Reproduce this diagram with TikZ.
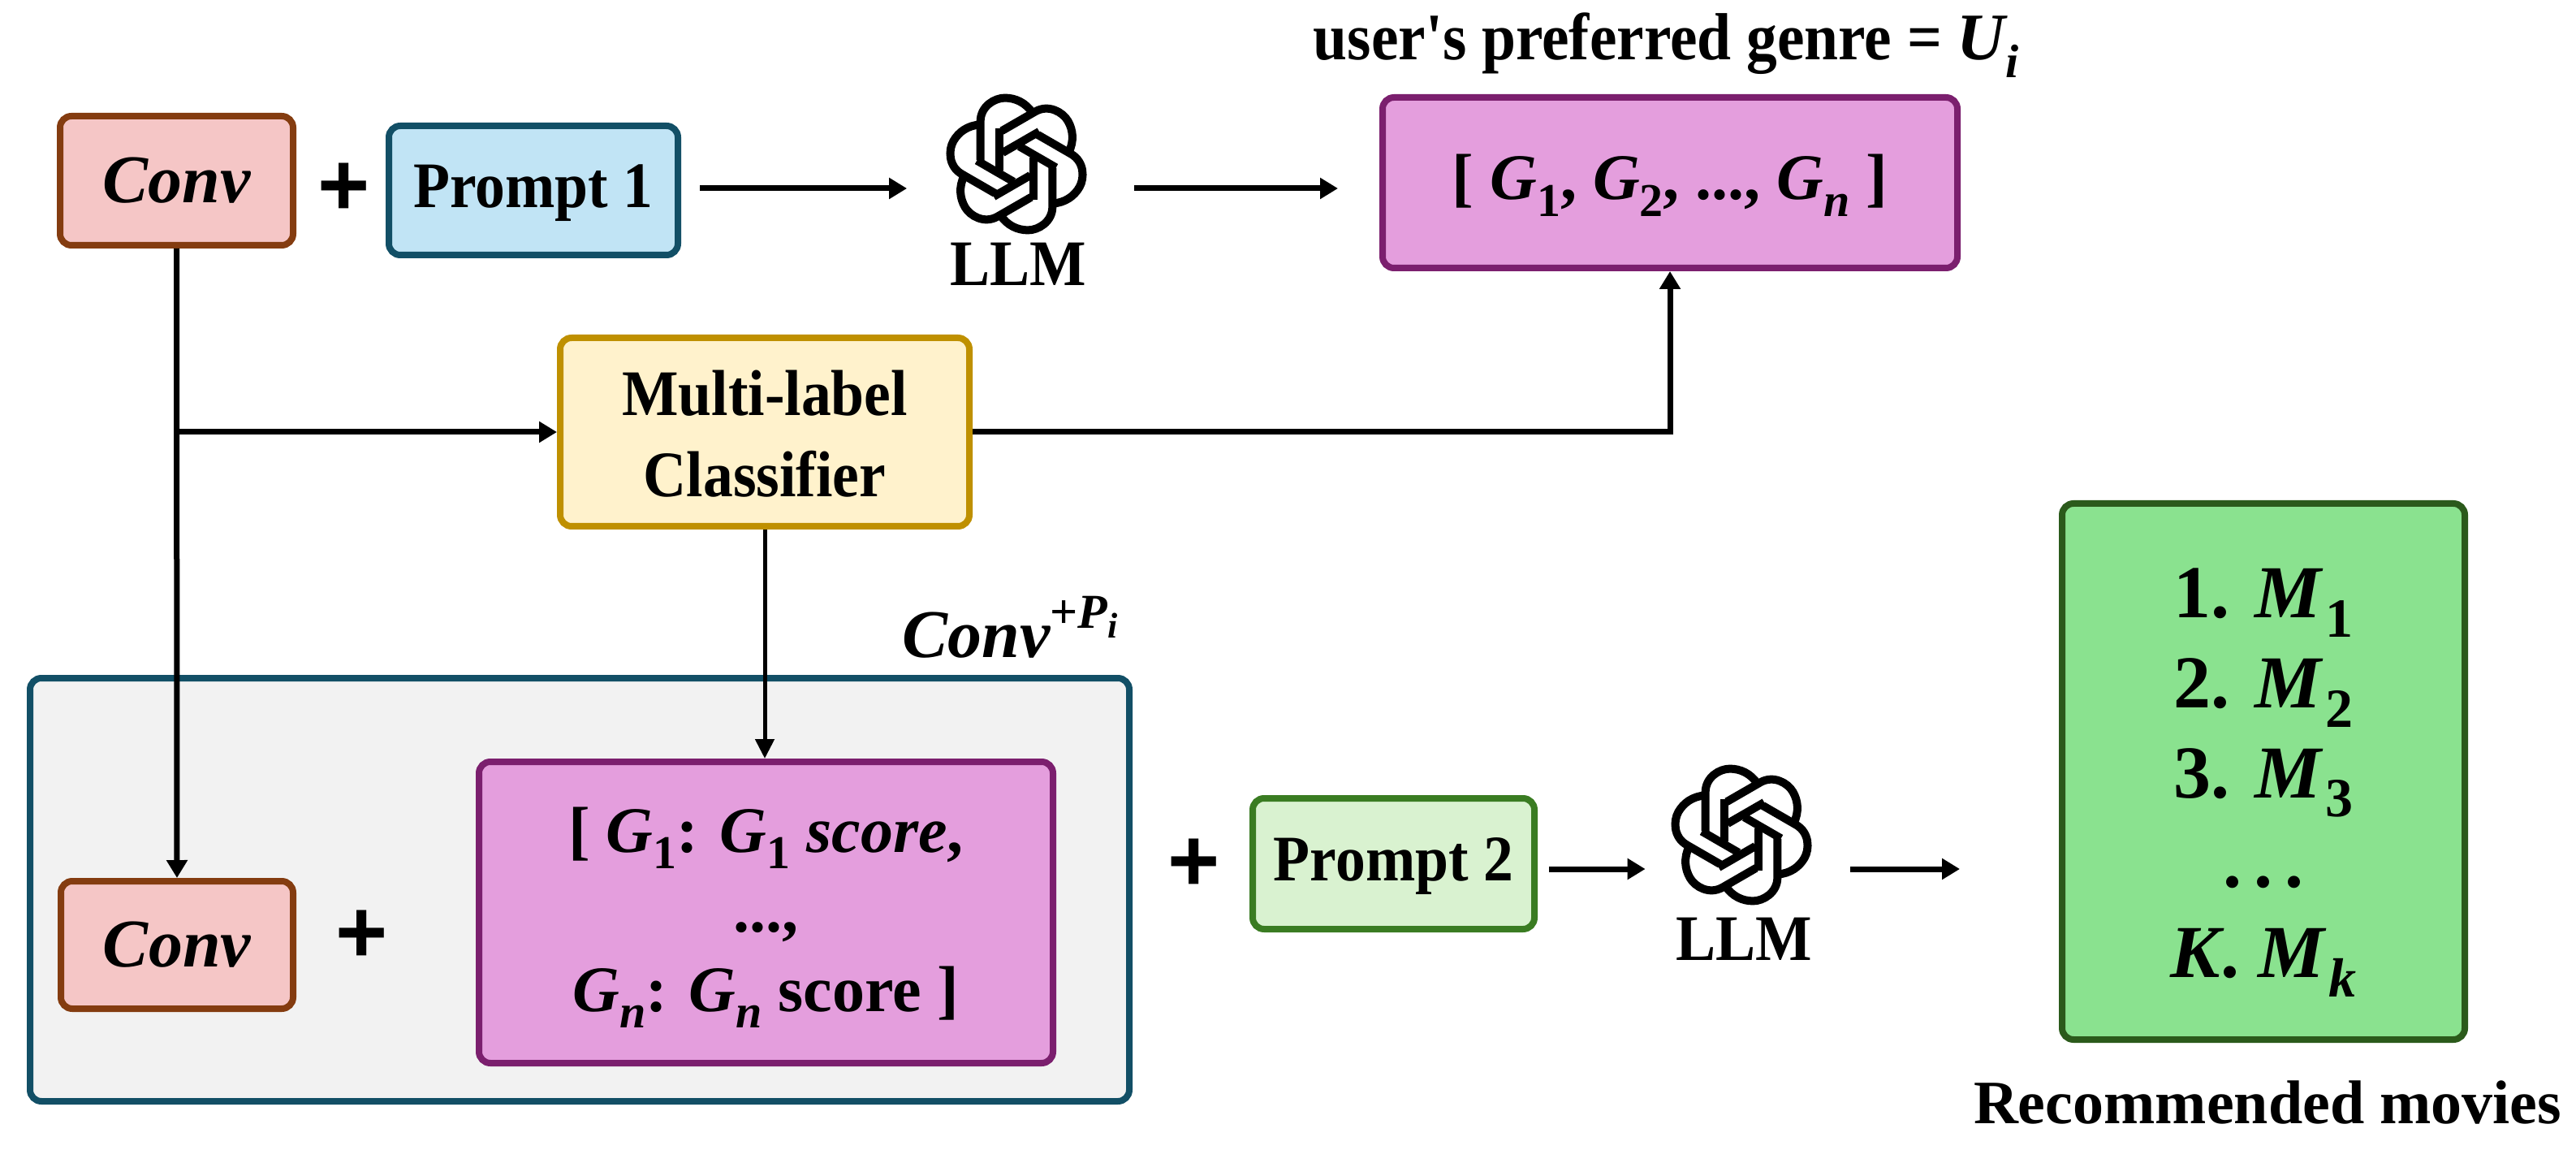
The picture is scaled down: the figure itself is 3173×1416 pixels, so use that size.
\documentclass[tikz,border=0pt]{standalone}
\usepackage{fontspec}
\usetikzlibrary{arrows.meta}
\setmainfont{Liberation Serif}
\newfontfamily\narrowserif[FakeStretch=0.92]{Liberation Serif}
\newfontfamily\plusfont{Liberation Sans}
\newcommand\lbl{\narrowserif\bfseries\fontsize{40}{40}\selectfont}
\newcommand\wide{\normalfont\bfseries\fontsize{38}{38}\selectfont}
\newcommand\mi{\normalfont\bfseries\itshape}
\newcommand\up{\normalfont\bfseries}
\newcommand\sbs[1]{\raisebox{-.26em}{\fontsize{29}{29}\selectfont #1}}
\newcommand\sbr[1]{\kern.06em\raisebox{-.26em}{\fontsize{34}{34}\selectfont #1}}
\definecolor{convF}{HTML}{F5C6C6}\definecolor{convD}{HTML}{843C10}
\definecolor{blueF}{HTML}{C1E4F5}\definecolor{blueD}{HTML}{124F66}
\definecolor{purF}{HTML}{E49EDD}\definecolor{purD}{HTML}{7B1F6E}
\definecolor{yelF}{HTML}{FFF2CC}\definecolor{yelD}{HTML}{BF9000}
\definecolor{grnF}{HTML}{D9F2D0}\definecolor{grnD}{HTML}{3A7C22}
\definecolor{recF}{HTML}{8AE28F}\definecolor{recD}{HTML}{2B5A1B}
\definecolor{bigF}{HTML}{F2F2F2}
\tikzset{
  boxed/.style={rectangle,rounded corners=7pt,line width=4pt,align=center,inner sep=0pt,font=\lbl},
  arr/.style={line width=3.5pt,-{Triangle[length=11pt,width=12.5pt]}},
  thinarr/.style={line width=2.5pt,-{Triangle[length=12pt,width=11.5pt]}},
  plus/.style={inner sep=0pt,font=\plusfont\bfseries\fontsize{55}{55}\selectfont},
  capt/.style={anchor=base,inner sep=0pt},
  knot/.style={line width=5pt,line join=miter},
  llmicon/.pic={
    \foreach \a in {0,60,...,300}{
      \begin{scope}[rotate=\a,scale=.95]
        \draw[knot] (-46.7,-5) -- (-46.7,-55) .. controls (-46.7,-75) and (-28.3,-85.7) .. (-15,-85.7)
          .. controls (-1.7,-85.7) and (11.7,-80) .. (21,-66);
        \draw[knot] (-21.7,-46.7) -- (-21.7,8.3);
      \end{scope}
    }
  }
}
\begin{document}
\begin{tikzpicture}[x=0.5pt,y=-0.5pt]
\useasboundingbox (0,0) rectangle (3173,1416);
% containers and boxes
\node[boxed,draw=blueD,fill=bigF,minimum width=677pt,minimum height=260.5pt] (big) at (714,1095.5) {};
\node[boxed,draw=convD,fill=convF,minimum width=143.5pt,minimum height=79.5pt,font=\fontsize{42}{42}\selectfont] (conv1) at (217.5,222.5) {\mi Conv};
\node[boxed,draw=blueD,fill=blueF,minimum width=178pt,minimum height=79.5pt] (p1) at (657,234.5) {\rule{0pt}{30pt}Prompt 1};
\node[boxed,draw=purD,fill=purF,minimum width=354pt,minimum height=105pt] (g) at (2057,225)
  {\rule{0pt}{31pt}\up[ \mi G\sbs{\up 1}\up, \mi G\sbs{\up 2}\up, ..., \mi G\sbs{n}\up\ ]};
\node[boxed,draw=yelD,fill=yelF,minimum width=252pt,minimum height=116pt] (clf) at (942,532) {\rule{0pt}{30pt}Multi-label\\[10pt]Classifier};
\node[boxed,draw=convD,fill=convF,minimum width=143pt,minimum height=78.5pt,font=\fontsize{42}{42}\selectfont] (conv2) at (218,1163.5) {\mi Conv};
\node[boxed,draw=purD,fill=purF,minimum width=353.5pt,minimum height=185.5pt] (g2) at (943.5,1123.5)
  {\rule{0pt}{34pt}\up[ \mi G\sbs{\up 1}\up: \mi G\sbs{\up 1} score\up,\\[9pt]\up ...,\\[9pt]\mi G\sbs{n}\up: \mi G\sbs{n} \up score ]};
\node[boxed,draw=grnD,fill=grnF,minimum width=173.5pt,minimum height=80.5pt] (p2) at (1716.5,1063.5) {\rule{0pt}{30pt}Prompt 2};
\node[boxed,draw=recD,fill=recF,minimum width=248pt,minimum height=330pt,font=\normalfont\fontsize{46}{46}\selectfont] (rec) at (2788,950)
  {\rule{0pt}{44pt}\up 1. \mi M\sbr{\up 1}\\[9.3pt]\up 2. \mi M\sbr{\up 2}\\[9.3pt]\up 3. \mi M\sbr{\up 3}\\[9.3pt]\up .\kern.16em.\kern.16em.\\[9.3pt]\mi K\up. \mi M\sbr{k}};
% plus signs
\node[plus] (plusA) at (424,233) {+};
\node[plus] (plusB) at (446,1153) {+};
\node[plus] (plusC) at (1471,1065) {+};
% LLM icons with their captions
\node[inner sep=0pt,minimum width=84.5pt,minimum height=120pt] (llmA) at (1252,232) {};
\node[inner sep=0pt,minimum width=86pt,minimum height=130pt] (llmB) at (2146,1070) {};
\pic at (1252,202) {llmicon};
\pic at (2145,1028) {llmicon};
\node[capt,font=\lbl] (capA) at (1254,352) {LLM};
\node[capt,font=\lbl] (capB) at (2148,1182) {LLM};
% captions
\node[capt,font=\narrowserif\bfseries\fontsize{41}{41}\selectfont] (title) at (2052,74) {user's preferred genre = \mi U\sbs{i}};
\node[capt,font=\fontsize{42}{42}\selectfont] (convp) at (1244,809) {\mi Conv\raisebox{.42em}{\fontsize{30}{30}\selectfont\up +\mi P\raisebox{-.2em}{\fontsize{22}{22}\selectfont i}}};
\node[capt,font=\wide] (recc) at (2793,1383) {Recommended movies};
% connectors
\draw[arr] (conv1.south) -- (conv2.north);
\draw[arr] (conv1.south |- clf.west) -- (clf.west);
\draw[arr] (clf.east) -| (g.south);
\draw[thinarr] (clf.south) -- (clf.south |- g2.north);
\draw[arr,shorten <=11.5pt,shorten >=25pt] (p1.east |- llmA.west) -- (llmA.west);
\draw[arr,shorten <=30pt,shorten >=25.5pt] (llmA.east) -- (g.west |- llmA.east);
\draw[arr,shorten <=7pt,shorten >=16.5pt] (p2.east |- llmB.west) -- (llmB.west);
\draw[arr,shorten <=23.5pt,shorten >=61pt] (llmB.east) -- (rec.west |- llmB.east);
\end{tikzpicture}
\end{document}
